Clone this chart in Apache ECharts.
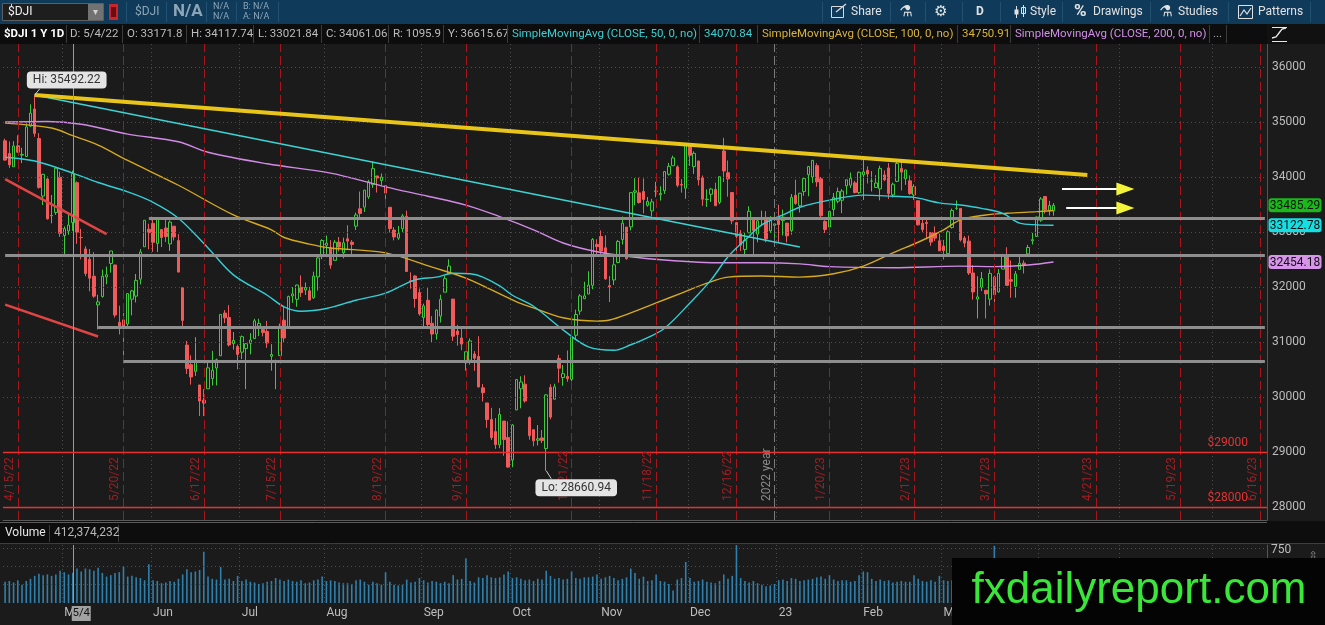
<!DOCTYPE html>
<html><head><meta charset="utf-8">
<script src="https://cdn.jsdelivr.net/npm/echarts@6/dist/echarts.min.js"></script>
<style>html,body{margin:0;padding:0;background:#1b1b1b;overflow:hidden}#c{width:1325px;height:625px}</style>
</head><body><div id="c"></div><script>
// ---------- DATA ----------
const tradingDays = [
 ["2022-04",[11,12,13,14,18,19,20,21,22,25,26,27,28,29]],
 ["2022-05",[2,3,4,5,6,9,10,11,12,13,16,17,18,19,20,23,24,25,26,27,31]],
 ["2022-06",[1,2,3,6,7,8,9,10,13,14,15,16,17,21,22,23,24,27,28,29,30]],
 ["2022-07",[1,5,6,7,8,11,12,13,14,15,18,19,20,21,22,25,26,27,28,29]],
 ["2022-08",[1,2,3,4,5,8,9,10,11,12,15,16,17,18,19,22,23,24,25,26,29,30,31]],
 ["2022-09",[1,2,6,7,8,9,12,13,14,15,16,19,20,21,22,23,26,27,28,29,30]],
 ["2022-10",[3,4,5,6,7,10,11,12,13,14,17,18,19,20,21,24,25,26,27,28,31]],
 ["2022-11",[1,2,3,4,7,8,9,10,11,14,15,16,17,18,21,22,23,25,28,29,30]],
 ["2022-12",[1,2,5,6,7,8,9,12,13,14,15,16,19,20,21,22,23,27,28,29,30]],
 ["2023-01",[3,4,5,6,9,10,11,12,13,17,18,19,20,23,24,25,26,27,30,31]],
 ["2023-02",[1,2,3,6,7,8,9,10,13,14,15,16,17,21,22,23,24,27,28]],
 ["2023-03",[1,2,3,6,7,8,9,10,13,14,15,16,17,20,21,22,23,24,27,28,29,30,31]],
 ["2023-04",[3,4,5,6,10,11,12,13,14,17,18,19,20,21,24,25,26,27,28]],
 ["2023-05",[1,2,3,4,5,8,9,10,11,12,15,16,17,18,19,22,23,24,25,26,30,31]],
 ["2023-06",[1,2,5,6,7,8,9,12,13,14,15,16,20]]
];
const monthLabels = {"2022-05":"May","2022-06":"Jun","2022-07":"Jul","2022-08":"Aug","2022-09":"Sep","2022-10":"Oct","2022-11":"Nov","2022-12":"Dec","2023-01":"23","2023-02":"Feb","2023-03":"Mar","2023-04":"Apr","2023-05":"May","2023-06":"Jun"};

const opens = [34658,34428,34186,34566,34398,34373,34925,35236,34700,33653,33964,33295,33355,33995,
 32936,33019,33171.8,33897,32900,32692,32504,32195,31675,31828,32183,32428,32401,31358,31402,31327,31778,31834,32143,32731,33050,
 33157,32792,33046,33073,32784,33106,32844,31987,30944,30588,30466,30219,29943,30149,30337,30526,30749,31526,31444,30972,30918,
 30815,30882,30977,31062,31289,31226,31193,30741,30629,30753,31396,31279,31837,31777,31997,31946,31931,31804,32185,32551,
 32758,32706,32485,32816,32623,32877,32814,33106,33423,33452,33639,33860,34019,33936,33843,33449,33036,32889,33060,33287,32114,32200,31898,
 31444,31759,31340,31148,31470,31906,32241,31780,31200,31073,30622,30669,30782,30739,30167,29892,29593,29371,29131,29563,29263,
 28855,29765,30149,30233,29626,29404,29214,29256,29063,30175,29960,30700,30354,30374,30320,31123,31563,31787,31872,32031,32774,
 32918,32712,32025,32129,32445,32865,33090,33093,33722,33712,33738,33485,33384,33735,33677,33750,34050,34205,34184,33865,33797,
 34591,34189,34292,33985,33589,33686,33774,33539,34473,34078,33717,33171,32970,32683,32985,33261,32961,33225,33265,33021,33121,
 33209,33207,33162,33026,33667,33477,33735,34042,34000,34206,33966,33193,33090,33409,33559,33577,33839,33850,33893,33719,
 34040,34122,33925,33810,33784,34038,34165,33675,33920,34156,33969,33930,33673,33569,33157,33175,32989,32984,32840,
 32745,32606,33081,33430,33429,32890,32834,32255,31780,31998,31940,31779,32180,31910,32325,32547,32133,32011,32322,32434,32602,32839,32920,
 33214,33645,33390,33384];
const highs = [34697,34646,34651,34759,34531,34979,35321,35492.22,34797,34058,34011,33673,34180,34099,
 33102,33360,34117.74,33920,33058,32741,32690,32634,31859,32315,32370,32655,32401,31660,31530,31890,31949,32237,32690,33213,33150,
 33274,33250,33047,33273,33212,33106,32961,31987,31021,30760,31087,30219,30144,30656,30838,30699,31501,31580,31670,31182,30952,
 31119,30983,31163,31422,31423,31290,31384,30962,30680,31335,31656,31843,31997,32042,32212,32082,32003,32279,32570,32869,
 32936,32852,32855,32909,32897,33123,32853,33353,33736,33762,33949,34281,34019,34064,33843,33449,33088,33110,33326,33387,32267,32218,31973,
 31697,31999,31471,31593,31861,32202,32505,31780,31312,31290,30823,31065,30836,31105,30236,29892,29802,29616,29799,29563,29557,
 29507,30317,30378,30395,29649,29417,29490,29398,30049,30232,30240,30767,30582,30846,31116,31588,31871,32096,32286,32889,32868,
 33028,32940,32198,32575,32856,33282,33090,33716,33979,33988,33974,33637,33603,33913,33831,34098,34256,34387,34212,33960,34590,
 34595,34466,34292,34027,33775,33802,33897,34006,34712,34300,33727,33171,33036,32988,33468,33261,33224,33387,33379,33288,33152,
 33496,33407,33167,33691,33951,33712,33974,34201,34306,34250,34000,33214,33386,33710,33808,33780,33950,34082,33931,34101,
 34335,34193,34108,34032,34206,34120,34253,33899,34280,34289,34130,34028,33869,33569,33218,33218,32989,33101,32968,
 32856,33031,33426,33573,33429,32926,32933,32397,32195,32274,31940,32321,32206,32326,32602,32722,32483,32290,32589,32485,32766,32984,33280,
 33634,33647,33566,33526];
const lows = [34294,34166,34186,34441,34253,34370,34906,34731,33787,33491,33226,33158,33312,32913,
 32597,32950,33021.84,32786,32504,32196,31922,31804,31229,31808,32051,32262,31444,31138,30636,31256,31485,31719,32048,32731,32685,
 32638,32633,32727,32820,32656,32846,32266,31271,30417,30225,30383,29654,29653,30149,30210,30211,30749,31342,30920,30862,30503,
 30688,30144,30777,31062,31108,31103,30892,30480,30143,30753,31001,31279,31714,31641,31819,31855,31761,31783,31935,32505,
 32541,32332,32485,32646,32522,32691,32578,33036,33267,33364,33602,33802,33717,33855,33593,32991,32848,32856,32997,32274,31970,31625,31480,
 31253,31272,30983,31043,31354,31906,32241,31019,30934,30851,30479,30590,30476,30172,29918,29439,29219,29058,29068,28932,28716,
 28725,29765,29795,29898,29224,29104,29119,29163,28660.94,29593,29960,30260,30206,30276,30206,31038,31496,31780,31872,31960,32600,
 32584,32132,31727,32037,32432,32773,32497,33029,33485,33515,33339,33460,33283,33632,33571,33691,34026,34205,33814,33716,33604,
 34202,34056,33847,33475,33456,33546,33474,33505,33907,33642,33141,32574,32653,32582,32985,32573,32812,33119,32813,32984,32817,
 32812,32937,32812,32953,33495,33355,33659,33649,33892,33822,33270,32982,32948,33290,33522,33344,33681,33799,33700,33693,
 33582,33882,33737,33800,33576,33924,33599,33627,33907,33755,33856,33677,33583,33118,32995,32866,32749,32834,32656,
 32500,32582,33062,33399,32827,32721,32219,31770,31429,31926,31429,31663,31723,31900,32325,32022,31805,31806,32322,32246,32590,32773,32917,
 33185,33335,33300,33296];
const closes = [34308,34220,34564,34451,34411,34911,35161,34793,33811,34049,33240,33302,34160,32977,
 33061,33128,34061.06,32998,32899,32246,32161,31834,31730,32197,32223,32655,31490,31253,31262,31880,31929,32120,32637,33213,32990,
 32813,33248,32900,32916,33180,32910,32272,31393,30517,30365,30669,29927,29889,30530,30484,30677,31501,31439,30947,31029,30775,
 31097,30968,31037,31385,31338,31174,30982,30773,30631,31289,31073,31828,31875,32036,31899,31990,31762,32198,32529,32845,
 32798,32397,32813,32727,32803,32833,32775,33310,33337,33761,33913,34152,33981,33999,33707,33064,32910,32970,33292,32283,32099,31791,31510,
 31656,31318,31145,31581,31775,32152,32381,31105,31135,30962,30822,31020,30706,30184,30077,29590,29261,29135,29684,29226,28726,
 29490,30317,30274,29927,29297,29203,29240,29211,30039,29635,30186,30524,30424,30334,31083,31500,31837,31839,32034,32862,32733,
 32653,32148,32001,32403,32827,33161,32514,33716,33748,33537,33593,33554,33547,33746,33700,34098,34195,34347,33850,33853,34590,
 34395,34430,33948,33597,33598,33781,33477,34006,34109,33966,33203,32921,32758,32850,33377,33028,33204,33242,32876,33221,33147,
 33136,33270,32930,33631,33518,33705,33974,34190,34303,33911,33297,33045,33375,33630,33734,33744,33949,33978,33717,34086,
 34093,34054,33926,33891,34156,33949,33699,33869,34246,34089,34128,33697,33827,33130,33045,33154,32817,32889,32657,
 32662,33004,33391,33431,32856,32798,32254,31910,31820,32155,31875,32247,31862,32245,32561,32030,32105,32238,32433,32394,32718,32860,33274,
 33601,33403,33483,33485.29];
// volume in millions of shares
const volumes = [290,300,280,310,250,300,330,370,400,380,390,370,390,440,
 420,390,412.37,470,430,470,460,440,480,410,360,380,410,420,500,360,370,350,340,310,530,
 310,300,270,280,300,290,330,390,460,420,430,450,700,360,330,320,490,320,330,300,370,
 300,320,290,280,260,270,290,300,340,320,300,320,300,290,310,270,280,310,320,360,
 300,310,300,280,270,270,260,310,320,290,250,290,270,250,420,290,250,240,250,320,280,290,340,
 310,280,300,290,270,290,270,380,320,330,610,300,280,350,340,380,350,340,350,390,430,
 340,350,330,310,320,300,330,320,440,370,330,340,320,330,430,340,330,350,350,360,390,
 330,350,370,340,310,330,350,470,410,330,360,300,310,390,300,290,260,170,320,340,560,
 340,290,300,320,290,280,270,300,390,330,370,790,340,300,280,300,270,250,230,240,260,
 310,320,300,340,330,300,310,320,330,350,360,330,380,320,300,310,310,290,300,380,
 430,420,330,300,320,300,310,280,290,300,290,290,380,330,300,290,310,290,370,
 310,300,310,280,320,300,340,410,470,380,410,420,780,380,330,340,340,330,300,270,280,270,370,
 300,310,290,260];
// moving averages: [day index, value]
const sma50 = [[0,34360],[7,34290],[16,34070.84],[22,33900],[29,33730],[35,33540],[41,33250],[48,32710],[54,32220],[62,31850],[66,31640],[70,31560],[76,31610],[83,31760],[90,31890],[97,32130],[102,32180],[106,32250],[110,32240],[113,32180],[117,32020],[120,31850],[125,31650],[132,31220],[138,30910],[144,30850],[148,30950],[152,31080],[156,31250],[162,31710],[167,32130],[171,32550],[175,32850],[179,33130],[184,33310],[188,33450],[195,33580],[203,33670],[210,33650],[215,33630],[221,33530],[226,33490],[231,33430],[236,33340],[240,33160],[244,33130],[248,33122.78]];
const sma100 = [[0,34980],[11,34890],[16,34750.91],[22,34580],[29,34300],[41,33850],[54,33310],[63,33040],[66,32900],[72,32780],[77,32710],[90,32620],[101,32360],[109,32160],[121,31730],[125,31620],[132,31440],[140,31380],[143,31400],[148,31530],[154,31710],[160,31890],[166,32070],[171,32180],[179,32200],[188,32180],[196,32240],[203,32380],[210,32620],[217,32850],[222,33040],[226,33220],[232,33310],[237,33340],[244,33370],[248,33390]];
const sma200 = [[0,35000],[10,35010],[18,34960],[29,34780],[41,34640],[48,34450],[62,34240],[77,34070],[90,33820],[100,33650],[109,33490],[117,33280],[125,33040],[132,32800],[140,32640],[148,32550],[156,32490],[164,32450],[171,32440],[179,32440],[188,32420],[195,32370],[210,32350],[226,32380],[234,32370],[242,32400],[248,32454.18]];
const priceTicks = [28000,29000,30000,31000,32000,33000,34000,35000,36000];
const volumeTicks = [250,500,750];
const volumeLabels = [750];
const expDates = ['2022-04-14','2022-05-20','2022-06-17','2022-07-15','2022-08-19','2022-09-16','2022-10-21','2022-11-18','2022-12-16','2023-01-20','2023-02-17','2023-03-17','2023-04-21','2023-05-19','2023-06-16'];
const expLabels = ['4/15/22','5/20/22','6/17/22','7/15/22','8/19/22','9/16/22','10/21/22','11/18/22','12/16/22','1/20/23','2/17/23','3/17/23','4/21/23','5/19/23','6/16/23'];
const yearLine = ['2022-12-30','2022 year'];
const priceAlerts = [29000,28000];
const supportLevels = [[34,33255],[0,32582],[22,31273],[28,30655]]; // [start index, price]
const yellowTrend = [[7,35492.22],[256,34036]];
const cyanTrend = [[7,35492.22],[188,32727]];
const redTrends = [[[0,33960],[24,32960]],[[0,31680],[22,31100]]];
const arrows = [[250,263,265,33782],[251,263,265,33436]]; // [shaft start, shaft end, head, price]
const hiPoint = [7,35492.22];
const loPoint = [128,28660.94];
const cursorDate = '2022-05-04';
const lastValues = [33485.29,33122.78,32454.18];

// ---------- BUILD ----------
const dates = [];
tradingDays.forEach(([ym, days]) => days.forEach(d => dates.push(ym + '-' + String(d).padStart(2,'0'))));
const N = closes.length;
const monthStart = new Set();
dates.forEach((d,i) => { if (i>0 && d.slice(0,7) !== dates[i-1].slice(0,7)) monthStart.add(i); });
const isMonthStart = (i) => monthStart.has(i);
const candleData = dates.map((d,i) => i < N ? [opens[i], closes[i], lows[i], highs[i]] : '-');
const volData = dates.map((d,i) => i < N ? volumes[i] : '-');
const blank = dates.map(() => '-');
const maData = arr => arr.map(([i,v]) => [dates[i], v]);

const FONT = 'Roboto, "Noto Sans", sans-serif';
const GRID_LINE = {color:'#4d4d4d', type:[1,3], width:1};

const bgMarks = [];
priceTicks.filter(v => priceAlerts.indexOf(v) < 0).forEach(v => bgMarks.push({yAxis:v, lineStyle:GRID_LINE}));
expDates.forEach((d,k) => bgMarks.push({xAxis:d, lineStyle:{color:'#a8161b', type:[9,4], width:1},
  label:{show:true, formatter:expLabels[k], position:'insideStartTop', color:'#a51d22', fontSize:12, distance:2, padding:[0,0,0,17]}}));
bgMarks.push({xAxis:yearLine[0], lineStyle:{color:'#7a7a7a', type:[9,4], width:1},
  label:{show:true, formatter:yearLine[1], position:'insideStartTop', color:'#8a8a8a', fontSize:12, distance:2, padding:[0,0,0,17]}});
const alertMarks = priceAlerts.map(v => ({yAxis:v, lineStyle:{color:'#e8302f', type:'solid', width:1.4},
  label:{show:true, formatter:'$'+v, position:'insideEndTop', color:'#e03434', fontSize:12, distance:3, padding:[0,16,0,0]}}));

const drawMarks = [];
supportLevels.forEach(([i,v]) => drawMarks.push([{coord:[dates[i], v], lineStyle:{color:'#8e8e8e', width:3, type:'solid'}},{coord:[dates[dates.length-1], v]}]));
drawMarks.push([{coord:[dates[cyanTrend[0][0]], cyanTrend[0][1]], lineStyle:{color:'#3fd2d2', width:1.5, type:'solid'}},{coord:[dates[cyanTrend[1][0]], cyanTrend[1][1]]}]);
redTrends.forEach(t => drawMarks.push([{coord:[dates[t[0][0]], t[0][1]], lineStyle:{color:'#e04545', width:2.5, type:'solid'}},{coord:[dates[t[1][0]], t[1][1]]}]));
drawMarks.push([{coord:[dates[yellowTrend[0][0]], yellowTrend[0][1]], lineStyle:{color:'#e8c518', width:4, type:'solid'}},{coord:[dates[yellowTrend[1][0]], yellowTrend[1][1]]}]);
arrows.forEach(a => drawMarks.push([{coord:[dates[a[0]], a[3]], lineStyle:{color:'#ffffff', width:2, type:'solid'}},{coord:[dates[a[1]], a[3]]}]));
drawMarks.push({xAxis:cursorDate, lineStyle:{color:'#9a9a9a', width:1, type:'solid'}});

const calloutLabel = {show:true, position:'inside', color:'#333', backgroundColor:'#e4e4e4', borderRadius:4, padding:[3,6,2,6], fontSize:12, fontFamily:FONT};
const drawPoints = [
  {coord:[dates[hiPoint[0]], hiPoint[1]], symbol:'circle', symbolSize:1, itemStyle:{color:'rgba(0,0,0,0)'},
   label:Object.assign({}, calloutLabel, {formatter:'Hi: '+hiPoint[1].toFixed(2), offset:[32,-15]})},
  {coord:[dates[loPoint[0]], loPoint[1]], symbol:'circle', symbolSize:1, itemStyle:{color:'rgba(0,0,0,0)'},
   label:Object.assign({}, calloutLabel, {formatter:'Lo: '+loPoint[1].toFixed(2), offset:[30,17]})}
];
arrows.forEach(a => drawPoints.push({coord:[dates[a[2]], a[3]], symbol:'triangle', symbolSize:[13,18], symbolRotate:-90, itemStyle:{color:'#f3f33a'}, label:{show:false}}));

const option = {
  animation:false,
  backgroundColor:'#1b1b1b',
  textStyle:{fontFamily:FONT},
  grid:[
    {left:3, right:58, top:44, height:476, containLabel:false, outerBoundsMode:'none'},
    {left:3, right:58, top:545, height:58, containLabel:false, outerBoundsMode:'none'}
  ],
  xAxis:[
    {type:'category', gridIndex:0, data:dates, boundaryGap:true,
     axisLine:{show:true, onZero:false, lineStyle:{color:'#5a5a5a'}}, axisTick:{show:false}, axisLabel:{show:false},
     splitLine:{show:true, interval:(i)=>isMonthStart(i), lineStyle:GRID_LINE}},
    {type:'category', gridIndex:1, data:dates, boundaryGap:true,
     axisLine:{show:false}, axisTick:{show:false},
     axisLabel:{show:true, interval:(i)=>isMonthStart(i), formatter:(v)=>monthLabels[v.slice(0,7)]||'', color:'#bdbdbd', fontSize:12, align:'left', margin:4},
     splitLine:{show:true, interval:(i)=>isMonthStart(i), lineStyle:GRID_LINE}}
  ],
  yAxis:[
    {type:'value', gridIndex:0, position:'right', min:27764, max:36418,
     axisLine:{show:true, lineStyle:{color:'#555'}}, axisTick:{show:false}, splitLine:{show:false},
     axisLabel:{customValues:priceTicks, formatter:(v)=>String(Math.round(v)), color:'#bdbdbd', fontSize:12, margin:5}},
    {type:'value', gridIndex:1, position:'right', min:0, max:791,
     axisLine:{show:true, lineStyle:{color:'#555'}}, axisTick:{show:false}, splitLine:{show:false},
     axisLabel:{show:false}}
  ],
  series:[
    {name:'bg', type:'line', xAxisIndex:0, yAxisIndex:0, data:blank, z:1, silent:true, showSymbol:false,
     markLine:{silent:true, symbol:['none','none'], animation:false, label:{show:false}, data:bgMarks}},
    {name:'DJI', type:'candlestick', xAxisIndex:0, yAxisIndex:0, data:candleData, z:3, barWidth:3,
     itemStyle:{color:'#1b1b1b', color0:'#f05a5a', borderColor:'#3ccb3c', borderColor0:'#f05a5a', borderWidth:1}},
    {name:'SMA200', type:'line', xAxisIndex:0, yAxisIndex:0, data:maData(sma200), smooth:0.35, showSymbol:false, z:4,
     lineStyle:{color:'#d18ae6', width:1.4}},
    {name:'SMA100', type:'line', xAxisIndex:0, yAxisIndex:0, data:maData(sma100), smooth:0.35, showSymbol:false, z:4,
     lineStyle:{color:'#d6a91e', width:1.4}},
    {name:'SMA50', type:'line', xAxisIndex:0, yAxisIndex:0, data:maData(sma50), smooth:0.35, showSymbol:false, z:4,
     lineStyle:{color:'#34cfd6', width:1.4}},
    {name:'draw', type:'line', xAxisIndex:0, yAxisIndex:0, data:blank, z:6, silent:true, showSymbol:false,
     markLine:{silent:true, symbol:['none','none'], animation:false, label:{show:false}, data:drawMarks},
     markPoint:{silent:true, animation:false, data:drawPoints}},
    {name:'alerts', type:'line', xAxisIndex:0, yAxisIndex:0, data:blank, z:7, silent:true, showSymbol:false,
     markLine:{silent:true, symbol:['none','none'], animation:false, data:alertMarks}},
    {name:'Volume', type:'bar', xAxisIndex:1, yAxisIndex:1, data:volData, barWidth:1.6, z:3,
     itemStyle:{color:'#2f80ad'},
     markLine:{silent:true, symbol:['none','none'], animation:false, label:{show:false},
       data:volumeTicks.map(v=>({yAxis:v, lineStyle:GRID_LINE})).concat([{xAxis:cursorDate, lineStyle:{color:'#9a9a9a', width:1, type:'solid'}}])}}
  ]
};

const chart = echarts.init(document.getElementById('c'), null, {renderer:'canvas', width:1325, height:625});
chart.setOption(option);

// ---------- OVERLAY (UI chrome, labels placed via chart scales) ----------
const G = [];
const T = (x,y,s,fill,size,weight,align,fam) => G.push({type:'text', z:100, silent:true, style:{x:x, y:y, text:s, fill:fill||'#c8c8c8',
  font:(weight||'normal')+' '+(size||12)+'px '+(fam||FONT), textAlign:align||'left', align:align||'left', textVerticalAlign:'middle', verticalAlign:'middle'}});
const R = (x,y,w,h,fill,stroke,r) => G.push({type:'rect', z:100, silent:true, shape:{x:x,y:y,width:w,height:h,r:r||0}, style:{fill:fill||'none', stroke:stroke||null, lineWidth:1}});
const L = (x1,y1,x2,y2,c,w) => G.push({type:'line', z:100, silent:true, shape:{x1:x1,y1:y1,x2:x2,y2:y2}, style:{stroke:c, lineWidth:w||1}});

// toolbar
R(0,0,1325,24,'#0f3a5a');
R(2.5,3.5,101,17,'#1e1e1e','#5e5e5e');
T(8,12,'$DJI','#f0f0f0',12);
R(88,4,15,16,'#727272');
T(95.5,12,'▾','#d0d0d0',10,'normal','center');
R(109,4,9,16,'#c8262c'); R(111,7,5,10,'#6a0d10');
[126,166,206,236,278].forEach(x=>L(x+0.5,2,x+0.5,22,'#24506f'));
T(135,12,'$DJI','#8da6b7',12);
T(173,12,'N/A','#8da6b7',17,'bold');
T(213,7,'N/A','#8da6b7',9); T(213,17,'N/A','#8da6b7',9);
T(243,7,'B: N/A','#8da6b7',9); T(243,17,'A: N/A','#8da6b7',9);
[822,890,925,962,1000,1062,1150,1228,1310].forEach(x=>L(x+0.5,2,x+0.5,22,'#21506f'));
R(831.5,6.5,12,11,'none','#d8d8d8'); L(836,12,846,4,'#d8d8d8',1.5);
T(851,12,'Share','#e2e2e2',12);
T(906,12,'⚗','#e2e2e2',15,'normal','center','"DejaVu Sans"');
T(941,12,'⚙','#e2e2e2',15,'normal','center','"DejaVu Sans"');
T(980,12,'D','#e2e2e2',12,'bold','center');
L(1016.5,6,1016.5,18,'#e2e2e2',1); R(1014.5,9.5,4,5,'#e2e2e2'); L(1023.5,5,1023.5,17,'#e2e2e2',1); R(1021.5,7.5,4,6,'none','#e2e2e2');
T(1030,12,'Style','#e2e2e2',12);
T(1074,12,'%','#e2e2e2',17,'bold');
T(1093,12,'Drawings','#e2e2e2',12);
T(1166,12,'⚗','#e2e2e2',15,'normal','center','"DejaVu Sans"');
T(1178,12,'Studies','#e2e2e2',12);
R(1238.5,5.5,14,13,'none','#e2e2e2'); G.push({type:'polyline', z:100, silent:true, shape:{points:[[1240,16],[1244,10],[1247,14],[1251,8]]}, style:{stroke:'#e2e2e2', lineWidth:1.2, fill:'none'}});
T(1258,12,'Patterns','#e2e2e2',12);

// legend row
R(0,24,1325,20,'#0d0d0d');
const legend = [[4,'$DJI 1 Y 1D','#ffffff','bold'],[70,'D: 5/4/22'],[127,'O: 33171.8'],[191,'H: 34117.74'],[258,'L: 33021.84'],[326,'C: 34061.06'],[393,'R: 1095.9'],[448,'Y: 36615.67'],
 [512,'SimpleMovingAvg (CLOSE, 50, 0, no)','#3ccfd3'],[704,'34070.84','#3ccfd3'],[762,'SimpleMovingAvg (CLOSE, 100, 0, no)','#d7b33c'],[962,'34750.91','#d7b33c'],[1015,'SimpleMovingAvg (CLOSE, 200, 0, no)','#cf8fe6'],[1213,'...','#a8a8a8']];
legend.forEach(l=>T(l[0],34.5,l[1],l[2]||'#bcbcbc',11.5,l[3]||'normal'));
[66,122,186,253,321,388,443,507,699,757,957,1010,1209,1226].forEach(x=>L(x+0.5,25,x+0.5,43,'#3b3b3b'));
R(1267,24,58,20,'#111');
G.push({type:'polyline', z:100, silent:true, shape:{points:[[1272,38],[1276,37],[1279,33],[1282,29],[1286,28]]}, style:{stroke:'#e8e8e8', lineWidth:1.3, fill:'none'}});
L(1272,41.5,1287,41.5,'#e8e8e8',1); L(1272,27.5,1287,27.5,'#e8e8e8',1);

// volume header row
R(0,521,1325,22,'#0d0d0d');
L(0,522.5,1267,522.5,'#5a5a5a'); L(0,543.5,1325,543.5,'#3d3d3d');
T(5,533,'Volume','#e6e6e6',12);
L(49.5,525,49.5,542,'#3b3b3b'); L(118.5,525,118.5,542,'#3b3b3b');
T(54,533,'412,374,232','#b8b8b8',12);
T(1313,556,'⇳','#8a8a8a',11,'normal','center','"DejaVu Sans"');
volumeLabels.forEach(v => {
  const y = chart.convertToPixel({yAxisIndex:1}, v);
  T(1271, Math.max(y+2, 550), String(v), '#bdbdbd', 12);
});

// Hi / Lo callout pointers
const hiPx = chart.convertToPixel({xAxisIndex:0, yAxisIndex:0}, [dates[hiPoint[0]], hiPoint[1]]);
const loPx = chart.convertToPixel({xAxisIndex:0, yAxisIndex:0}, [dates[loPoint[0]], loPoint[1]]);
L(hiPx[0], hiPx[1], hiPx[0]+5, hiPx[1]-6, '#cfcfcf', 1);
L(loPx[0], loPx[1], loPx[0]+5, loPx[1]+8, '#cfcfcf', 1);

// right axis value boxes
const boxColors = ['#19b919','#14e0e4','#d795ea'];
lastValues.forEach((v,k) => {
  const y = chart.convertToPixel({yAxisIndex:0}, v);
  R(1268.5, y-7, 53, 14, boxColors[k], null, 3);
  T(1295, y+0.5, v.toFixed(2), '#111', 12, 'normal', 'center');
});

// cursor date box
const cx = chart.convertToPixel({xAxisIndex:1}, cursorDate);
R(cx-1, 606, 19, 15, '#a2a2a2');
T(cx+8.5, 613.5, '5/4', '#151515', 11.5, 'normal', 'center');

// watermark
G.push({type:'rect', z:200, silent:true, shape:{x:952,y:558,width:373,height:67}, style:{fill:'#040404'}});
G.push({type:'text', z:201, silent:true, style:{x:1139, y:591, text:'fxdailyreport.com', fill:'#3ae63a', font:'normal 44px "Liberation Sans", Arial, sans-serif', textAlign:'center', align:'center', textVerticalAlign:'middle', verticalAlign:'middle'}});

chart.setOption({graphic:G});
</script></body></html>
